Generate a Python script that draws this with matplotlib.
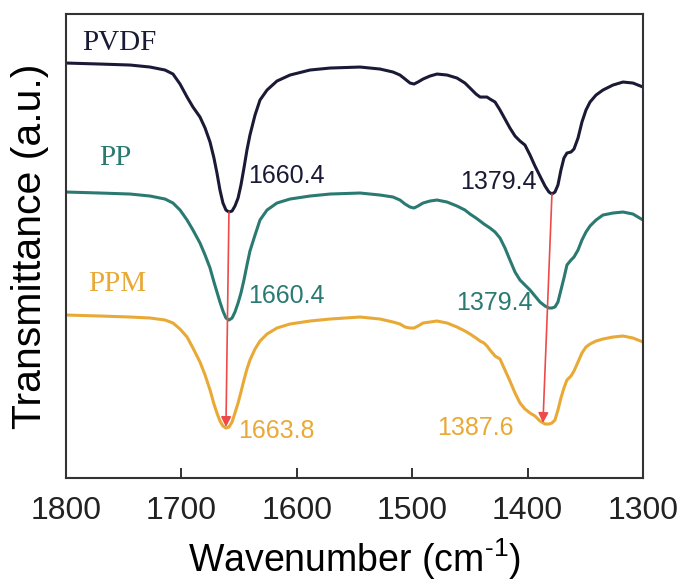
import matplotlib.pyplot as plt

# wavenumber grid (cm-1) shared by the three spectra
wavenumber = [1800.0, 1770.5, 1744.5, 1727.2, 1714.2, 1707.3, 1701.2, 1695.1, 1690.0, 1683.9,
              1679.5, 1675.2, 1671.8, 1669.2, 1666.6, 1664.0, 1661.4, 1658.8, 1656.1, 1653.6,
              1650.9, 1648.4, 1645.8, 1643.2, 1640.6, 1636.2, 1631.9, 1625.8, 1617.2, 1605.9,
              1588.6, 1571.2, 1545.2, 1527.9, 1516.6, 1510.6, 1506.2, 1501.9, 1498.4, 1495.0,
              1490.6, 1484.6, 1478.5, 1469.8, 1461.2, 1454.3, 1449.9, 1444.7, 1441.2, 1437.8,
              1435.2, 1432.6, 1428.2, 1423.9, 1419.6, 1415.3, 1410.9, 1406.6, 1402.3, 1397.9,
              1393.6, 1389.3, 1384.9, 1381.5, 1378.9, 1376.3, 1373.7, 1371.1, 1368.5, 1365.9,
              1362.4, 1359.8, 1356.3, 1352.9, 1349.4, 1345.9, 1340.7, 1334.7, 1326.0, 1317.3,
              1308.7, 1300.0]

# transmittance (a.u., stacked with offsets)
t_pvdf = [4.15, 4.14, 4.13, 4.11, 4.08, 4.04, 3.94, 3.81, 3.71, 3.61,
          3.50, 3.36, 3.20, 3.05, 2.88, 2.75, 2.68, 2.66, 2.67, 2.72,
          2.80, 2.93, 3.10, 3.28, 3.43, 3.63, 3.78, 3.88, 3.97, 4.03,
          4.08, 4.10, 4.11, 4.09, 4.06, 4.03, 3.99, 3.95, 3.94, 3.96,
          3.99, 4.02, 4.04, 4.03, 4.00, 3.95, 3.90, 3.84, 3.81, 3.81,
          3.81, 3.79, 3.76, 3.68, 3.59, 3.50, 3.42, 3.37, 3.33, 3.23,
          3.12, 3.02, 2.92, 2.86, 2.84, 2.86, 2.93, 3.08, 3.20, 3.25,
          3.26, 3.29, 3.40, 3.56, 3.68, 3.76, 3.83, 3.88, 3.93, 3.96,
          3.95, 3.91]
t_pp = [2.86, 2.85, 2.84, 2.82, 2.79, 2.75, 2.68, 2.58, 2.48, 2.35,
        2.23, 2.10, 1.96, 1.86, 1.76, 1.67, 1.60, 1.58, 1.60, 1.66,
        1.75, 1.85, 1.98, 2.13, 2.27, 2.43, 2.58, 2.68, 2.75, 2.79,
        2.82, 2.84, 2.85, 2.83, 2.81, 2.78, 2.74, 2.71, 2.70, 2.72,
        2.75, 2.77, 2.78, 2.76, 2.72, 2.68, 2.64, 2.60, 2.57, 2.54,
        2.52, 2.50, 2.46, 2.40, 2.30, 2.18, 2.06, 1.98, 1.93, 1.88,
        1.82, 1.76, 1.72, 1.70, 1.70, 1.71, 1.76, 1.88, 2.00, 2.13,
        2.18, 2.21, 2.28, 2.38, 2.46, 2.52, 2.58, 2.63, 2.65, 2.66,
        2.64, 2.58]
t_ppm = [1.63, 1.62, 1.61, 1.60, 1.58, 1.55, 1.49, 1.41, 1.30, 1.16,
         1.03, 0.88, 0.74, 0.65, 0.57, 0.52, 0.50, 0.51, 0.56, 0.65,
         0.75, 0.86, 0.98, 1.09, 1.18, 1.29, 1.37, 1.44, 1.50, 1.54,
         1.57, 1.59, 1.61, 1.59, 1.56, 1.54, 1.51, 1.50, 1.50, 1.52,
         1.55, 1.56, 1.57, 1.55, 1.51, 1.47, 1.44, 1.40, 1.37, 1.35,
         1.32, 1.28, 1.22, 1.19, 1.08, 0.97, 0.85, 0.75, 0.69, 0.65,
         0.62, 0.57, 0.54, 0.54, 0.55, 0.58, 0.68, 0.80, 0.90, 0.98,
         1.02, 1.07, 1.16, 1.25, 1.31, 1.34, 1.37, 1.39, 1.41, 1.42,
         1.40, 1.36]

names = ["PVDF", "PP", "PPM"]
colors = ["#1b1a36", "#2a7a72", "#e9a936"]

# peak labels: (text, x, y), first left-aligned, second right-aligned
peak_labels = [
    [("1660.4", 1642.0, 3.02), ("1379.4", 1392.0, 2.96)],
    [("1660.4", 1642.0, 1.82), ("1379.4", 1396.0, 1.75)],
    [("1663.8", 1650.5, 0.47), ("1387.6", 1412.0, 0.50)],
]
name_pos = [(1786, 4.35), (1771, 3.20), (1781, 1.94)]

# arrows: (wavenumber top, t top, wavenumber bottom, t bottom)
arrows = [(1658.8, 2.66, 1661.4, 0.51), (1378.9, 2.84, 1386.7, 0.55)]

plt.rcParams['font.family'] = ['Liberation Sans', 'DejaVu Sans']
plt.rcParams['mathtext.fontset'] = 'custom'
plt.rcParams['mathtext.rm'] = 'Liberation Sans'

fig = plt.figure(figsize=(6.82, 5.85), dpi=100)
ax = fig.add_axes([0.0968, 0.1829, 0.846, 0.7931])

for t, c in zip([t_pvdf, t_pp, t_ppm], colors):
    ax.plot(wavenumber, t, color=c, lw=2.2, solid_joinstyle='round')

for (x0, y0, x1, y1) in arrows:
    ax.annotate('', xy=(x1, y1), xytext=(x0, y0),
                arrowprops=dict(arrowstyle='-|>', color='#ee4a4a', lw=1.2,
                                mutation_scale=15, shrinkA=0, shrinkB=0))

for labels, c in zip(peak_labels, colors):
    for (txt, x, y), ha in zip(labels, ['left', 'right']):
        ax.text(x, y, txt, color=c, fontsize=18, ha=ha, va='center')

for name, (x, y), c in zip(names, name_pos, colors):
    ax.text(x, y, name, color=c, fontsize=21, family='Liberation Serif',
            ha='left', va='center')

ax.set_xlim(1800, 1300)
ax.set_ylim(0, 4.64)
ax.set_xticks([1800, 1700, 1600, 1500, 1400, 1300])
ax.set_yticks([])
ax.tick_params(axis='x', direction='in', length=7, width=1.3, pad=13,
               labelsize=23, colors='#222222')
for s in ax.spines.values():
    s.set_linewidth(1.5)
    s.set_color('#333333')

ax.set_xlabel(r'Wavenumber (cm$^{\text{-1}}$)', fontsize=27)
ax.xaxis.set_label_coords(0.5, -0.125)
ax.set_ylabel('Transmittance (a.u.)', fontsize=29.5)
ax.yaxis.set_label_coords(-0.03, 0.5)

fig.savefig('out.png', dpi=100)
